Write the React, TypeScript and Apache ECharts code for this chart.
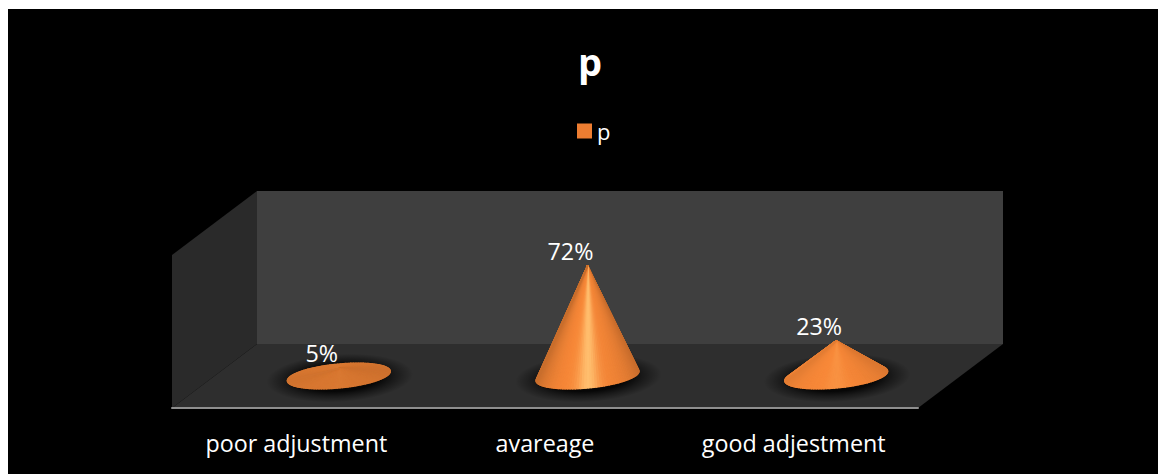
import React, { useEffect, useRef } from "react";
import * as echarts from "echarts";

const categories = ["poor adjustment", "avareage", "good adjestment"];
const seriesName = "p";
const percentValues = [5, 72, 23];

const FONT = '"Open Sans", sans-serif';
const GRID = { left: 172, top: 255, width: 746, height: 153 };
const DEPTH = { x: 85, y: -64 };
const TILT = (5.5 * Math.PI) / 180;

type RGB = [number, number, number];
const mix = (a: RGB, b: RGB, w: number): RGB =>
  [0, 1, 2].map((k) => a[k] + (b[k] - a[k]) * w) as RGB;
const css = (c: RGB) => `rgb(${c.map((v) => Math.round(v)).join(",")})`;

function shade(t: number, steep: number): string {
  const u = Math.cos(t);
  const flat: RGB = [204, 113, 46];
  const body: RGB = [248, 136, 56];
  let c = mix(flat, body, Math.min(1, steep * 4));
  const light = Math.exp(-Math.pow((u + 0.02) / 0.22, 2)) * Math.pow(steep, 1.5);
  c = mix(c, [255, 190, 110], light);
  const edge = Math.pow(Math.abs(u), 4) * (0.08 + 0.4 * steep);
  c = mix(c, [150, 82, 32], edge);
  if (u > 0) c = mix(c, [190, 100, 40], u * 0.2);
  return css(c);
}

const renderCone = (params: any, api: any) => {
  const i = api.value(0);
  const v = api.value(1);
  const band = api.size([1, 0])[0];
  const base = api.coord([i, 0]);
  const top = api.coord([i, v]);
  const cx = base[0] + DEPTH.x / 2;
  const cy = base[1] + DEPTH.y / 2;
  const ax = top[0] + DEPTH.x / 2;
  const ay = top[1] + DEPTH.y / 2;
  const rx = band * 0.208;
  const ry = 12;
  const rim = (t: number) => {
    const c = Math.cos(t) * rx;
    const s = Math.sin(t) * ry;
    return [
      cx + c * Math.cos(TILT) + s * Math.sin(TILT),
      cy - c * Math.sin(TILT) + s * Math.cos(TILT),
    ];
  };
  const steep = (cy - ay) / 110;
  const N = 120;
  const fan: any[] = [];
  for (let k = 0; k < N; k++) {
    // back half first (t in pi..2pi), then the front half
    const t0 = Math.PI + (k * 2 * Math.PI) / N;
    const t1 = Math.PI + ((k + 1) * 2 * Math.PI) / N;
    const fill = shade((t0 + t1) / 2, steep);
    fan.push({
      type: "polygon",
      shape: { points: [[ax, ay], rim(t0), rim(t1)] },
      style: { fill, stroke: fill, lineWidth: 1.3, lineJoin: "round" },
    });
  }
  return {
    type: "group",
    children: [
      {
        type: "ellipse",
        shape: { cx: 0, cy: 0, rx: rx * 1.42, ry: 24 },
        x: cx + 1,
        y: cy + 2,
        rotation: TILT * 0.6,
        style: {
          fill: new echarts.graphic.RadialGradient(0.5, 0.5, 0.5, [
            { offset: 0, color: "rgba(0,0,0,0.9)" },
            { offset: 0.55, color: "rgba(0,0,0,0.85)" },
            { offset: 0.76, color: "rgba(0,0,0,0.42)" },
            { offset: 1, color: "rgba(0,0,0,0)" },
          ]),
        },
      },
      {
        type: "ellipse",
        shape: { cx: 0, cy: 0, rx: rx + 0.5, ry: ry + 0.6 },
        x: cx,
        y: cy + 0.8,
        rotation: TILT,
        style: { fill: "#120a04" },
      },
      ...fan,
      {
        type: "text",
        style: {
          text: `${v}%`,
          x: ax - 17,
          y: ay - 15,
          fill: "#ffffff",
          font: `23.3px ${FONT}`,
          align: "center",
          verticalAlign: "middle",
        },
      },
    ],
  };
};

const option: any = {
  animation: false,
  backgroundColor: "#ffffff",
  textStyle: { fontFamily: FONT },
  title: {
    text: seriesName,
    left: 573,
    top: 37,
    textStyle: { color: "#ffffff", fontSize: 38, fontWeight: "bold", fontFamily: FONT },
  },
  legend: {
    data: [seriesName],
    left: 577,
    top: 120,
    icon: "rect",
    itemWidth: 15,
    itemHeight: 15,
    itemStyle: { color: "#ED7D31" },
    padding: 0,
    textStyle: { color: "#ffffff", fontSize: 22, fontFamily: FONT },
    selectedMode: false,
  },
  grid: { ...GRID, containLabel: false },
  xAxis: {
    type: "category",
    data: categories,
    axisTick: { show: false },
    axisLine: { show: true, lineStyle: { color: "#8f8f8f", width: 2 } },
    axisLabel: { color: "#ffffff", fontSize: 23.3, margin: 23, fontFamily: FONT },
    splitLine: { show: false },
  },
  yAxis: { type: "value", min: 0, max: 100, show: false, splitLine: { show: false } },
  graphic: [
    {
      type: "rect",
      z: -20,
      shape: { x: 8, y: 9, width: 1150, height: 465 },
      style: { fill: "#000000" },
    },
    {
      type: "polygon",
      z: -10,
      shape: {
        points: [
          [GRID.left + DEPTH.x, GRID.top + DEPTH.y],
          [GRID.left + GRID.width + DEPTH.x, GRID.top + DEPTH.y],
          [GRID.left + GRID.width + DEPTH.x, GRID.top + GRID.height + DEPTH.y],
          [GRID.left + DEPTH.x, GRID.top + GRID.height + DEPTH.y],
        ],
      },
      style: { fill: "#3f3f3f" },
    },
    {
      type: "polygon",
      z: -10,
      shape: {
        points: [
          [GRID.left, GRID.top],
          [GRID.left + DEPTH.x, GRID.top + DEPTH.y],
          [GRID.left + DEPTH.x, GRID.top + GRID.height + DEPTH.y],
          [GRID.left, GRID.top + GRID.height],
        ],
      },
      style: { fill: "#2a2a2a" },
    },
    {
      type: "polygon",
      z: -10,
      shape: {
        points: [
          [GRID.left, GRID.top + GRID.height],
          [GRID.left + DEPTH.x, GRID.top + GRID.height + DEPTH.y],
          [GRID.left + GRID.width + DEPTH.x, GRID.top + GRID.height + DEPTH.y],
          [GRID.left + GRID.width, GRID.top + GRID.height],
        ],
      },
      style: { fill: "#2e2e2e" },
    },
  ],
  series: [
    {
      name: seriesName,
      type: "custom",
      coordinateSystem: "cartesian2d",
      clip: false,
      silent: true,
      itemStyle: { color: "#ED7D31" },
      encode: { x: 0, y: 1 },
      data: percentValues.map((v, i) => [i, v]),
      renderItem: renderCone,
    },
  ],
};

export default function App() {
  const ref = useRef<HTMLDivElement>(null);
  useEffect(() => {
    document.body.style.margin = "0";
    document.body.style.background = "#ffffff";
    const chart = echarts.init(ref.current!, undefined, { renderer: "svg" });
    chart.setOption(option);
    return () => chart.dispose();
  }, []);
  return <div ref={ref} style={{ width: 1158, height: 474 }} />;
}
